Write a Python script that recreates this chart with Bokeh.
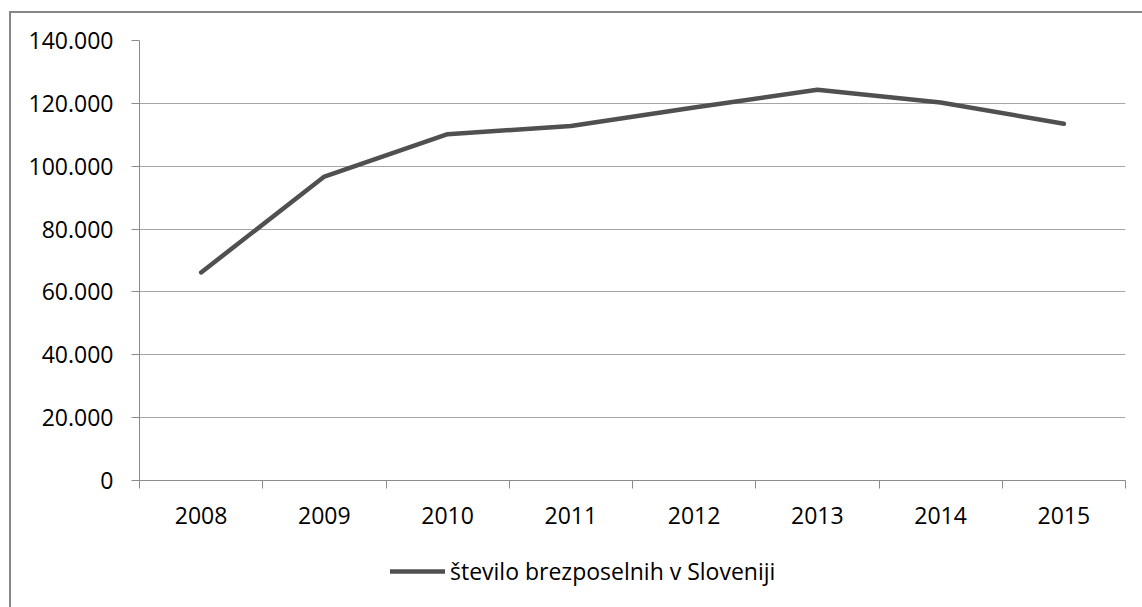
from bokeh.plotting import figure
from bokeh.layouts import column
from bokeh.models import Range1d, FixedTicker, Legend, LegendItem
from bokeh.embed import file_html
from bokeh.resources import INLINE

years = ["2008", "2009", "2010", "2011", "2012", "2013", "2014", "2015"]
unemployed = [66200, 96700, 110200, 112800, 118700, 124300, 120300, 113500]
y_ticks = [0, 20000, 40000, 60000, 80000, 100000, 120000, 140000]
series_name = "število brezposelnih v Sloveniji"

FONT = "Open Sans"
TXT = "#000000"
GRID = "#a6a6a6"
AX = "#8c8c8c"
LINE = "#505050"
LINE_W = 4.5

xs = [i + 0.5 for i in range(len(years))]

p = figure(width=1133, height=526,
           x_range=Range1d(0, len(years)), y_range=Range1d(y_ticks[0], y_ticks[-1]),
           output_backend="svg", toolbar_location=None,
           min_border_left=128, min_border_right=19, min_border_top=27, min_border_bottom=59)
p.outline_line_color = None
p.background_fill_color = "white"
p.border_fill_color = "white"

r = p.line(xs, unemployed, line_color=LINE, line_width=LINE_W, line_join="round", line_cap="round")

# x axis: labels at category centres, tick marks between categories
p.xaxis.ticker = FixedTicker(ticks=xs, minor_ticks=list(range(len(years) + 1)))
p.xaxis.major_label_overrides = {x: y for x, y in zip(xs, years)}
p.xaxis.major_tick_line_color = None
p.xaxis.major_tick_out = 0
p.xaxis.major_tick_in = 0
p.xaxis.minor_tick_line_color = AX
p.xaxis.minor_tick_out = 8
p.xaxis.minor_tick_in = 0
p.xaxis.major_label_standoff = 18

# y axis
p.yaxis.ticker = FixedTicker(ticks=y_ticks)
p.yaxis.major_label_overrides = {v: f"{v:,}".replace(",", ".") for v in y_ticks}
p.yaxis.minor_tick_line_color = None
p.yaxis.major_tick_line_color = AX
p.yaxis.major_tick_out = 8
p.yaxis.major_tick_in = 0
p.yaxis.major_label_standoff = 18

for ax in (p.xaxis, p.yaxis):
    ax.axis_line_color = AX
    ax.axis_line_width = 1
    ax.major_label_text_font = FONT
    ax.major_label_text_font_size = "23px"
    ax.major_label_text_color = TXT

p.xgrid.grid_line_color = None
p.ygrid.ticker = FixedTicker(ticks=y_ticks)
p.ygrid.grid_line_color = GRID
p.ygrid.grid_line_width = 1

# legend strip below the chart (frames of the column are aligned with the chart's frame)
leg = figure(width=1133, height=90, x_range=Range1d(0, 1), y_range=Range1d(0, 1),
             output_backend="svg", toolbar_location=None,
             x_axis_location=None, y_axis_location=None,
             min_border=0)
leg.outline_line_color = None
leg.grid.grid_line_color = None
leg.background_fill_color = "white"
leg.border_fill_color = "white"
lr = leg.line(x=[float("nan")], y=[float("nan")], line_color=LINE, line_width=LINE_W, line_cap="round")

legend = Legend(items=[LegendItem(label=series_name, renderers=[lr])],
                location=(251, 42), orientation="horizontal",
                padding=0, margin=0, border_line_color=None, background_fill_alpha=0,
                glyph_width=55, glyph_height=24, label_standoff=5,
                label_text_font=FONT, label_text_font_size="23px", label_text_color=TXT)
leg.add_layout(legend, "center")

layout = column(p, leg, spacing=0, margin=(11, 0, 0, 9),
                styles={"border-left": "2px solid #878787", "border-top": "2px solid #878787"})

open("out.html", "w").write(file_html(layout, INLINE))
